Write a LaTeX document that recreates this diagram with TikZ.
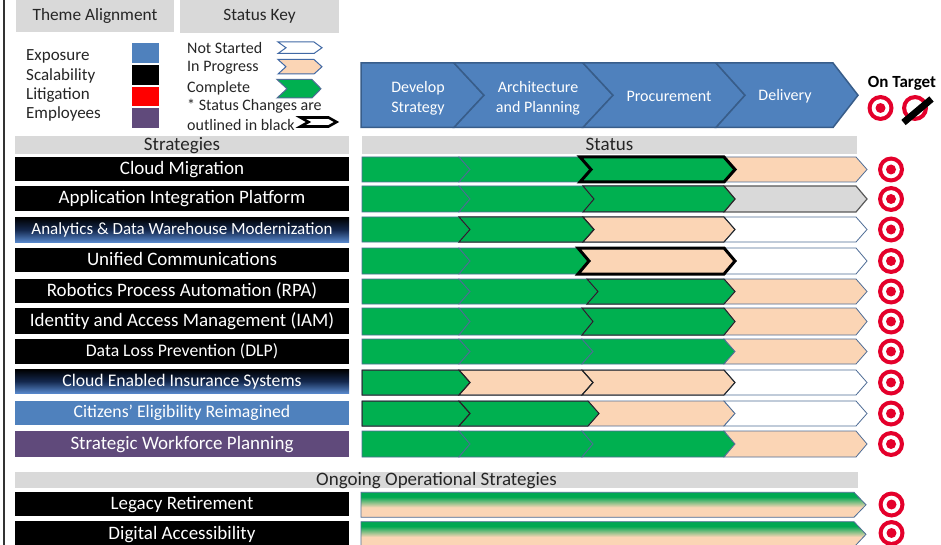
\documentclass[tikz,border=0pt]{standalone}
\usepackage{fontspec}
\setmainfont{Carlito}
\definecolor{expblue}{RGB}{79,129,189}
\definecolor{hdrborder}{RGB}{56,93,138}
\definecolor{cgreen}{RGB}{0,176,80}
\definecolor{ogreen}{RGB}{0,168,82}
\definecolor{cpeach}{RGB}{251,213,181}
\definecolor{cgray}{RGB}{217,217,217}
\definecolor{outl}{RGB}{79,109,150}
\definecolor{keyblue}{RGB}{65,105,165}
\definecolor{tred}{RGB}{228,0,43}
\definecolor{empurple}{RGB}{96,74,123}
\definecolor{gradblue}{RGB}{88,136,204}
\definecolor{graddark}{RGB}{20,40,78}
\definecolor{litred}{RGB}{255,0,0}
\pgfdeclareverticalshading{ongoshade}{100bp}{color(0bp)=(cpeach); color(45bp)=(cpeach); color(66bp)=(ogreen); color(100bp)=(ogreen)}
\newcommand\mkseg[7]{\path[#7] (#1,#3) -- (#2,#3) -- ({#2+#6},{(#3+#4)/2}) -- (#2,#4) -- (#1,#4) -- ({#1+#5},{(#3+#4)/2}) -- cycle;}
\newcommand\mkrow[7]{%
 \mkseg{362}{459}{#1}{#2}{0}{11}{#4}%
 \mkseg{459}{#3}{#1}{#2}{11}{11}{#5}%
 \mkseg{#3}{724}{#1}{#2}{11}{11}{#6}%
 \mkseg{724}{856}{#1}{#2}{11}{11}{#7}}
\newcommand\mktgt[2]{\fill[tred] (#1,#2) circle[radius=13pt]; \fill[white] (#1,#2) circle[radius=8.8pt]; \fill[tred] (#1,#2) circle[radius=5pt];}
\newcommand\mkbar[6]{\path[#3] (15,#1) rectangle (349,#2); \node[ltxt, font=\fontsize{#5}{#5}\selectfont] (#4) at (182,{(#1+#2)/2+0.285*#5}) {#6};}
\begin{document}
\begin{tikzpicture}[x=1pt,y=-1pt,
  gseg/.style={fill=cgreen, draw=outl, line width=0.8pt},
  pseg/.style={fill=cpeach, draw=outl, line width=0.8pt},
  wseg/.style={fill=white, draw=outl, line width=0.8pt},
  yseg/.style={fill=cgray, draw=black!65, line width=1.2pt},
  blk/.style={draw=black!85, line width=1pt},
  chg/.style={draw=black, line width=3pt},
  hseg/.style={fill=expblue, draw=hdrborder, line width=1.5pt},
  ltxt/.style={text=white, inner sep=0pt, anchor=base},
  gtxt/.style={text=black!85, inner sep=0pt, anchor=base},
  ktxt/.style={text=black!85, inner sep=0pt, anchor=base west, font=\fontsize{16}{19}\selectfont},
  ttxt/.style={text=black!85, inner sep=0pt, anchor=base west, font=\fontsize{17}{20}\selectfont},
  htxt/.style={text=white, inner sep=0pt, align=center, font=\fontsize{16}{20}\selectfont},
  ongo/.style={shading=ongoshade, draw=outl, line width=0.8pt}]
\useasboundingbox (0,0) rectangle (941,545);
\clip (0,0) rectangle (941,545);
\fill[white] (0,0) rectangle (941,545);
% left frame line
\draw[line width=1.6pt, black!80] (3.7,0) -- (3.7,545);
% legend header boxes
\fill[cgray] (16,0) rectangle (174,32.3);
\node[gtxt, font=\fontsize{17.3}{20}\selectfont] (tha) at (95,21) {Theme Alignment};
\fill[cgray] (180,0) rectangle (339,33.3);
\node[gtxt, font=\fontsize{17.3}{20}\selectfont] (stk) at (259.5,21) {Status Key};
% theme alignment
\node[ttxt] (exp) at (26,60.7) {Exposure};
\node[ttxt] (sca) at (26,80.5) {Scalability};
\node[ttxt] (lit) at (26,99.8) {Litigation};
\node[ttxt] (emp) at (26,118.2) {Employees};
\fill[expblue] (132,43) rectangle (159,63);
\fill[black] (132,65) rectangle (159,85);
\fill[litred] (132,87) rectangle (159,106);
\fill[empurple] (132,108) rectangle (159,128);
% status key
\node[ktxt] (kns) at (187,53.3) {Not Started};
\node[ktxt] (kip) at (187,72) {In Progress};
\node[ktxt] (kco) at (187,93) {Complete};
\node[ktxt] (kch) at (187,111) {* Status Changes are};
\node[ktxt] (kob) at (187,130.5) {outlined in black};
\mkseg{278}{314}{42}{53.5}{8}{8}{fill=white, draw=keyblue, line width=1pt}
\mkseg{278}{314}{59.5}{74}{8}{8}{fill=cpeach, draw=keyblue, line width=1pt}
\mkseg{277}{312}{79.5}{98}{10}{9}{fill=cgreen, draw=outl, line width=1pt}
\mkseg{300.5}{328.5}{117.5}{126.5}{8}{8}{fill=white, draw=black, line width=2.6pt}
% header chevron
\mkseg{361}{454}{63}{127.5}{0}{30}{hseg}
\mkseg{454}{583}{63}{127.5}{30}{30}{hseg}
\mkseg{583}{716}{63}{127.5}{30}{29}{hseg}
\mkseg{716}{833}{63}{127.5}{29}{25}{hseg}
\node[htxt] (h1) at (418,98) {Develop\\Strategy};
\node[htxt] (h2) at (538,98) {Architecture\\and Planning};
\node[htxt] (h3) at (669,96.5) {Procurement};
\node[htxt] (h4) at (785,96.5) {Delivery};
\node[inner sep=0pt, font=\bfseries\fontsize{17}{20}\selectfont] (ot) at (902,83) {On Target};
\mktgt{880.5}{108}
\fill[tred] (915,108) circle[radius=13pt];
\fill[white] (915,108) circle[radius=8.8pt];
\draw[line width=6.8pt, black] (903.5,122.5) -- (931.5,99);
% gray section bars
\fill[cgray] (15,136) rectangle (349,154);
\node[gtxt, font=\fontsize{19}{22}\selectfont] (str) at (182,150.5) {Strategies};
\fill[cgray] (361.5,136) rectangle (857,154.5);
\node[gtxt, font=\fontsize{19}{22}\selectfont] (sts) at (609.5,151) {Status};
\fill[cgray] (15,472) rectangle (858,487.5);
\node[gtxt, font=\fontsize{19}{22}\selectfont] (oos) at (436.5,485.5) {Ongoing Operational Strategies};
% strategy bars
\mkbar{157}{181}{fill=black}{s1}{19}{Cloud Migration}
\mkbar{186}{211}{fill=black}{s2}{19}{Application Integration Platform}
\mkbar{217.5}{242.3}{top color=black, bottom color=gradblue, middle color=graddark}{s3}{17}{Analytics \& Data Warehouse Modernization}
\mkbar{248}{272.3}{fill=black}{s4}{19}{Unified Communications}
\mkbar{279}{303}{fill=black}{s5}{19}{Robotics Process Automation (RPA)}
\mkbar{308}{334.3}{fill=black}{s6}{19}{Identity and Access Management (IAM)}
\mkbar{339.3}{364.3}{fill=black}{s7}{17.7}{Data Loss Prevention (DLP)}
\mkbar{369.3}{393.3}{top color=black, bottom color=gradblue, middle color=graddark}{s8}{17.7}{Cloud Enabled Insurance Systems}
\mkbar{400.7}{425}{fill=expblue}{s9}{17.7}{Citizens’ Eligibility Reimagined}
\mkbar{431}{456.7}{fill=empurple}{s10}{19}{Strategic Workforce Planning}
\mkbar{492}{516}{fill=black}{o1}{19}{Legacy Retirement}
\mkbar{521}{547}{fill=black}{o2}{19}{Digital Accessibility}
% status rows
\mkrow{157}{182}{580}{gseg}{gseg}{gseg}{pseg}
\mkseg{580}{724}{157}{182}{11}{11}{chg}
\mkrow{186}{212}{583}{gseg}{gseg}{gseg}{yseg}
\mkseg{583}{724}{186}{212}{11}{11}{blk}
\mkrow{217}{242}{583}{gseg}{gseg}{pseg}{wseg}
\mkseg{459}{583}{217}{242}{11}{11}{blk}
\mkseg{583}{724}{217}{242}{11}{11}{blk}
\mkrow{248}{274}{578}{gseg}{gseg}{pseg}{wseg}
\mkseg{578}{724}{248}{274}{11}{11}{chg}
\mkrow{279}{304}{587}{gseg}{gseg}{gseg}{pseg}
\mkseg{587}{724}{279}{304}{11}{11}{blk}
\mkrow{308}{335}{582}{gseg}{gseg}{gseg}{pseg}
\mkseg{582}{724}{308}{335}{11}{11}{blk}
\mkrow{339}{364}{582}{gseg}{gseg}{gseg}{pseg}
\mkrow{370}{395}{582}{gseg}{pseg}{pseg}{wseg}
\mkseg{362}{459}{370}{395}{0}{11}{blk}
\mkseg{459}{582}{370}{395}{11}{11}{blk}
\mkseg{582}{724}{370}{395}{11}{11}{blk}
\mkrow{401}{426}{588}{gseg}{gseg}{pseg}{wseg}
\mkseg{362}{459}{401}{426}{0}{11}{blk}
\mkseg{459}{588}{401}{426}{11}{11}{blk}
\mkrow{431}{457}{582}{gseg}{gseg}{gseg}{pseg}
% ongoing status bars
\mkseg{361}{854}{492.3}{517.3}{0}{12}{ongo}
\mkseg{361}{854}{521.7}{547}{0}{12}{ongo}
% targets
\mktgt{891}{169.5}
\mktgt{891}{199}
\mktgt{891}{229.5}
\mktgt{891}{261}
\mktgt{891}{291.5}
\mktgt{891}{321.5}
\mktgt{891}{351.5}
\mktgt{891}{382.5}
\mktgt{891}{413.5}
\mktgt{891}{444}
\mktgt{891.5}{504.5}
\mktgt{891.5}{533}
\end{tikzpicture}
\end{document}
